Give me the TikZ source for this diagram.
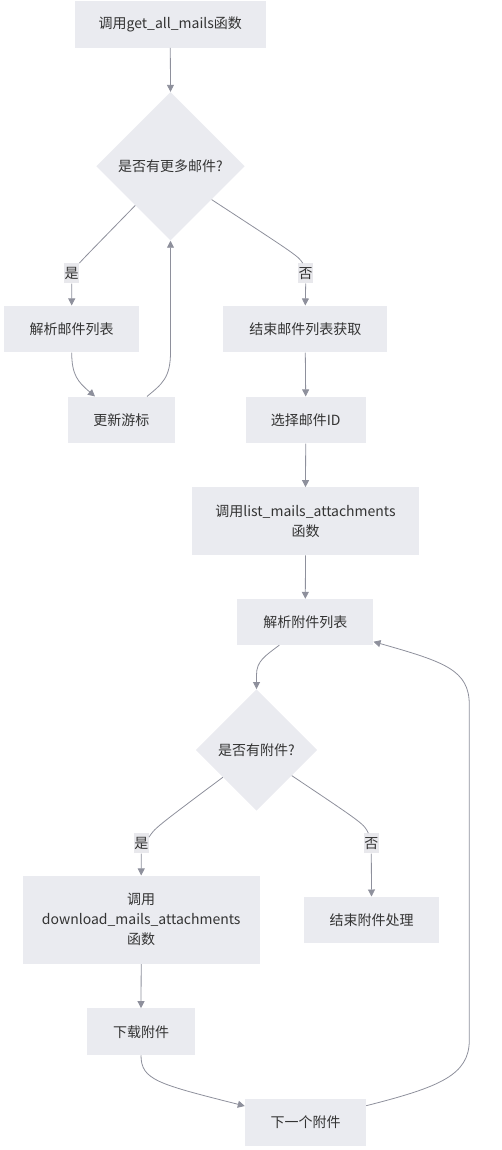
\documentclass[tikz,border=0pt]{standalone}
\usepackage{fontspec}
\setmainfont{Noto Sans CJK SC}
\usetikzlibrary{shapes.geometric,arrows.meta}
\definecolor{nodefill}{HTML}{EAEBF0}
\definecolor{edgegray}{HTML}{8E909C}
\definecolor{lblfill}{HTML}{E8E8EC}
\definecolor{txt}{HTML}{333333}

\begin{document}
\begin{tikzpicture}[x=1pt,y=1pt,
	every node/.style={font=\fontsize{14pt}{20pt}\selectfont, text=txt},
	box/.style={fill=nodefill, inner sep=0pt, align=center},
	decision/.style={diamond, fill=nodefill, inner sep=0pt, minimum size=#1},
	lbl/.style={fill=lblfill, inner xsep=0.5pt, inner ysep=0pt, minimum height=20pt},
	flow/.style={draw=edgegray, line width=0.8pt, -{Triangle[length=7pt,width=7pt]}}]
	\useasboundingbox (0,0) rectangle (502,-1150);
	% mail list loop
	\node[box, minimum width=191pt, minimum height=46.7pt] (call) at (170.3,-24.3) {调用get\_all\_mails函数};
	\node[decision=148.5pt] (more) at (170.5,-166.3) {是否有更多邮件?};
	\node[box, minimum width=135.3pt, minimum height=46.7pt] (parsemail) at (71.7,-329) {解析邮件列表};
	\node[box, minimum width=164pt, minimum height=46.7pt] (endmail) at (305.3,-329) {结束邮件列表获取};
	\node[box, minimum width=107.3pt, minimum height=46.7pt] (cursor) at (121.3,-420) {更新游标};
	\node[box, minimum width=120pt, minimum height=46.7pt] (pickid) at (305.7,-420) {选择邮件ID};
	\node[box, minimum width=226.4pt, minimum height=67.7pt] (listatt) at (305.5,-521.2) {调用list\_mails\_attachments\\函数};
	% attachment loop
	\node[box, minimum width=136pt, minimum height=46pt] (parseatt) at (305.3,-622) {解析附件列表};
	\node[decision=121.5pt] (hasatt) at (256.5,-750) {是否有附件?};
	\node[box, minimum width=237pt, minimum height=88.3pt] (dlcall) at (141.2,-919.8) {调用\\download\_mails\_attachments\\函数};
	\node[box, minimum width=135.6pt, minimum height=46.6pt] (endatt) at (371.5,-920) {结束附件处理};
	\node[box, minimum width=107.7pt, minimum height=46.7pt] (download) at (141,-1031.7) {下载附件};
	\node[box, minimum width=121pt, minimum height=46.7pt] (nextatt) at (305.5,-1122.3) {下一个附件};
	% edge labels
	\node[lbl] (yes1) at (71.7,-273.3) {是};
	\node[lbl] (no1) at (305.7,-273.3) {否};
	\node[lbl] (yes2) at (141.3,-843.3) {是};
	\node[lbl] (no2) at (371.3,-843.3) {否};

	\draw[flow] (call.south) -- (more.north);
	\draw[flow] (more.-132) .. controls (84,-258) .. (yes1.north east) (yes1.south) -- (parsemail.north);
	\draw[flow] (more.-39) .. controls (298,-256) .. ([xshift=-3pt]no1.north) (no1.south) -- (endmail.north);
	\draw[flow] (parsemail.south) .. controls (71.7,-375) and (78,-382) .. ([xshift=-26.3pt]cursor.north);
	\draw[flow] ([xshift=25.7pt]cursor.north) .. controls (162,-384) and (170.5,-378) .. (170.5,-352) -- (more.south);
	\draw[flow] (endmail.south) -- (pickid.north);
	\draw[flow] (pickid.south) -- (listatt.north);
	\draw[flow] (listatt.south) -- (parseatt.north);
	\draw[flow] ([xshift=-26pt]parseatt.south) .. controls (265,-656) and (256.5,-661) .. (256.5,-675) -- (hasatt.north);
	\draw[flow] (hasatt.-141) .. controls (155,-828) .. ([yshift=-4pt]yes2.north east) (yes2.south) -- (dlcall.north);
	\draw[flow] (hasatt.-36) .. controls (364,-824) .. ([xshift=-3pt]no2.north) (no2.south) -- (endatt.north);
	\draw[flow] (dlcall.south) -- (download.north);
	\draw[flow] (download.south) .. controls (141,-1080) and (158,-1084) .. ([yshift=16.3pt]nextatt.west);
	\draw[flow] ([yshift=16.6pt]nextatt.east) .. controls (440,-1087) and (469.3,-1075) .. (469.3,-1040) -- (469.3,-705) .. controls (469.3,-670) and (445,-662) .. ([yshift=-19.7pt]parseatt.east);
\end{tikzpicture}
\end{document}
